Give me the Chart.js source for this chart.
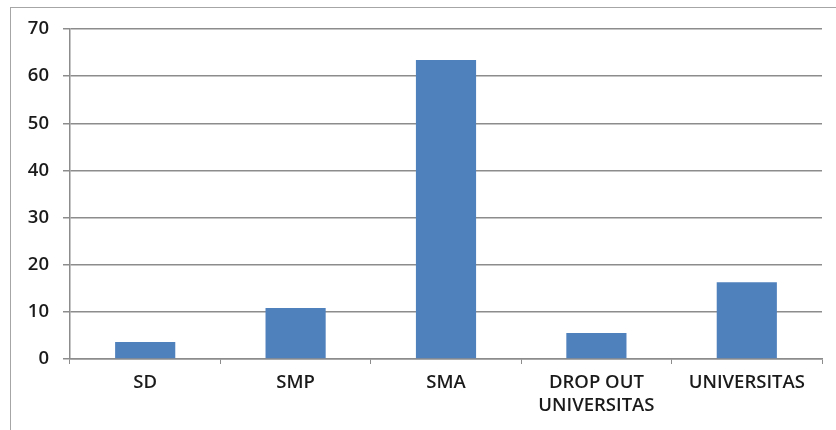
<!DOCTYPE html>
<html>
<head>
<meta charset="utf-8">
<script src="https://cdn.jsdelivr.net/npm/chart.js@4"></script>
<style>
    html, body { margin: 0; padding: 0; background: #fff; overflow: hidden; }
    .frame {
        position: absolute; left: 10px; top: 7px;
        width: 840px; height: 440px;
        border: 1px solid #a6a6a6;
    }
    .frame canvas { position: absolute; left: 0; top: 0; }
</style>
</head>
<body>
<div class="frame">
    <canvas id="eduChart" width="825" height="422" style="width:825px;height:422px"></canvas>
</div>
<script>
const categories = ['SD', 'SMP', 'SMA', ['DROP OUT', 'UNIVERSITAS'], 'UNIVERSITAS'];
const values = [3.6, 10.8, 63.4, 5.5, 16.3];
const yTicks = [0, 10, 20, 30, 40, 50, 60, 70];

const font = { family: "'Open Sans', sans-serif", size: 18.5, weight: '600', lineHeight: 1.25 };

new Chart(document.getElementById('eduChart'), {
    type: 'bar',
    data: {
        labels: categories,
        datasets: [{
            data: values,
            backgroundColor: '#4f81bd',
            borderWidth: 0,
            barPercentage: 0.4,
            categoryPercentage: 1
        }]
    },
    options: {
        responsive: false,
        animation: false,
        layout: { padding: { top: 21, right: 14, left: 0, bottom: 0 } },
        plugins: { legend: { display: false }, tooltip: { enabled: false } },
        scales: {
            x: {
                afterFit: scale => { scale.height = 71; scale.paddingLeft = 0; scale.paddingRight = 0; },
                grid: {
                    offset: true,
                    drawOnChartArea: false,
                    tickLength: 5,
                    color: '#8c8c8c'
                },
                border: { color: '#8c8c8c', width: 1.5 },
                ticks: { color: '#1a1a1a', font: font, padding: 7, maxRotation: 0, autoSkip: false }
            },
            y: {
                min: 0,
                max: 70,
                afterFit: scale => { scale.width = 59; scale.paddingTop = 0; scale.paddingBottom = 0; },
                afterBuildTicks: scale => { scale.ticks = yTicks.map(v => ({ value: v })); },
                grid: { color: '#8c8c8c', lineWidth: 1.5, tickLength: 7 },
                border: { color: '#8c8c8c', width: 1.5 },
                ticks: { color: '#1a1a1a', font: font, padding: 14 }
            }
        }
    }
});
</script>
</body>
</html>
